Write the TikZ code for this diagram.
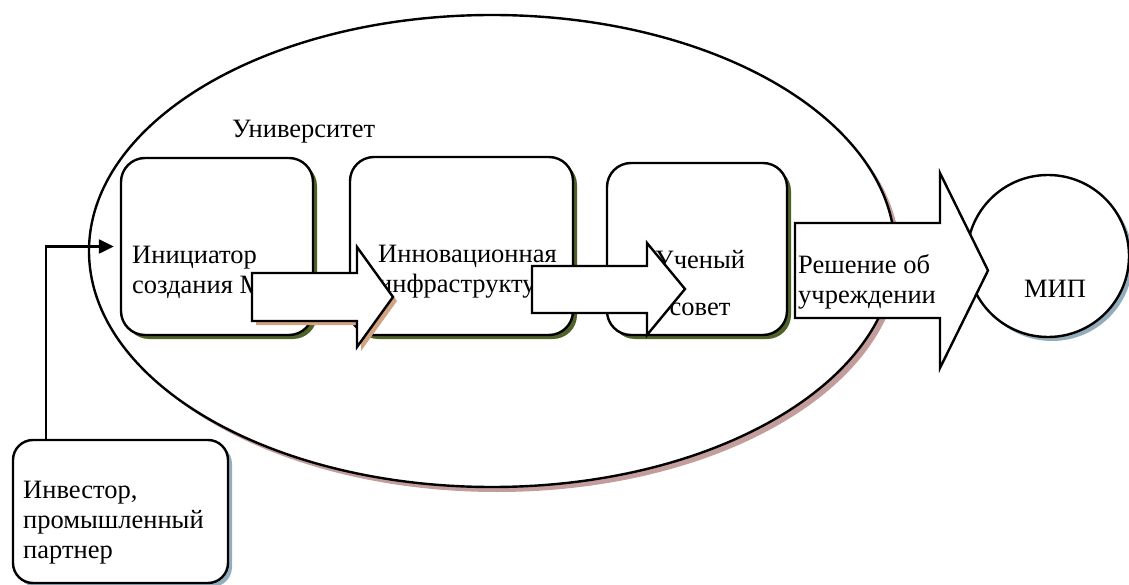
\documentclass[tikz,border=0pt]{standalone}
\usepackage{fontspec}
\setmainfont{Liberation Serif}
\usetikzlibrary{arrows.meta,shadows}
\definecolor{MPOlive}{HTML}{4F6228}
\definecolor{MPTan}{HTML}{D2A281}
\definecolor{MPRose}{HTML}{C39C9C}
\definecolor{MPSteel}{HTML}{93ADBC}
\tikzset{
  stagebox/.style={draw,line width=2.4pt,fill=white,rounded corners=24pt,
    drop shadow={shadow xshift=4pt,shadow yshift=-4pt,fill=MPOlive,opacity=1}},
  partnerbox/.style={draw,line width=2.4pt,fill=white,rounded corners=20pt,
    drop shadow={shadow xshift=4pt,shadow yshift=-4pt,fill=MPSteel,opacity=1}},
  blockarrow/.style={draw,line width=2.4pt,fill=white,line join=miter},
  lbl/.style={inner sep=0pt,anchor=base west,align=left,font=\fontsize{26.5}{30}\selectfont},
}

\begin{document}
\begin{tikzpicture}[x=1pt,y=-1pt]
\path[use as bounding box] (0,0) rectangle (1129,585);
% university
\fill[MPRose] (497,256) ellipse (403 and 236);
\draw[line width=2.4pt,fill=white] (492,251) ellipse (403 and 236);
\node[lbl] (univ) at (232,138) {Университет};
% stages inside
\node[stagebox,minimum width=192pt,minimum height=177pt] (init) at (217,246.5) {};
\node[stagebox,minimum width=223pt,minimum height=178pt] (infra) at (461.5,246) {};
\node[stagebox,minimum width=180pt,minimum height=172pt] (council) at (697,249) {};
% last line of each label sits on the given baseline
\node[lbl] (initlbl) at (132,293) {Инициатор\\создания МИП};
\node[lbl] (infralbl) at (378,292) {Инновационная\\инфраструктура};
\node[lbl,align=center,anchor=base] (councillbl) at (700,315) {Ученый\\[17pt]совет};
% result
\node[draw,line width=2.4pt,fill=white,circle,minimum size=162pt,
  drop shadow={shadow xshift=4pt,shadow yshift=-4pt,fill=MPSteel,opacity=1}] (mip) at (1048,256) {};
\node[lbl,anchor=base] (miplbl) at (1055,298) {МИП};
% block arrows
\fill[MPTan,shift={(4,4)}] (252,273) -- (357,273) -- (357,247) -- (393,297) -- (357,347) -- (357,321) -- (252,321) -- cycle;
\draw[blockarrow] (252,273) -- (357,273) -- (357,247) -- (393,297) -- (357,347) -- (357,321) -- (252,321) -- cycle;
\draw[blockarrow] (532,266) -- (647,266) -- (647,243) -- (685,289) -- (647,335) -- (647,313) -- (532,313) -- cycle;
\draw[blockarrow] (795,223) -- (940,223) -- (940,173) -- (988,270.5) -- (940,368) -- (940,318) -- (795,318) -- cycle;
\node[lbl] (decision) at (798,303) {Решение об\\учреждении};
% investor
\node[partnerbox,minimum width=215pt,minimum height=143pt] (inv) at (120.5,511.5) {};
\node[lbl] (invlbl) at (23,558) {Инвестор,\\промышленный\\партнер};
\draw[line width=2.4pt,-{Triangle[length=15pt,width=14pt]},shorten >=6pt] ([xshift=34pt]inv.north west) |- (init.west);
\end{tikzpicture}
\end{document}
